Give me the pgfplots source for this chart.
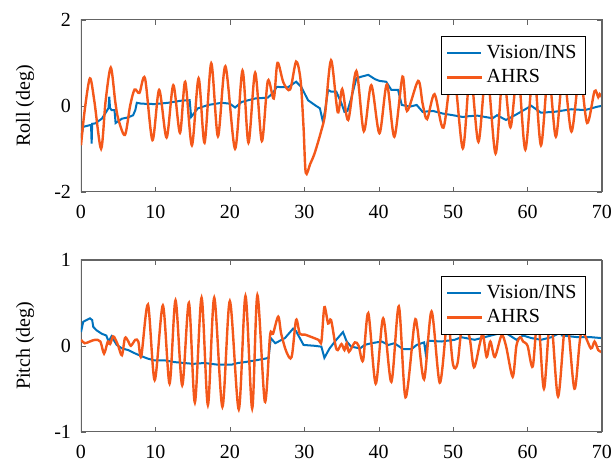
\documentclass[border=0pt]{standalone}
\usepackage{fontspec}
\setmainfont{Liberation Serif}
\usepackage{pgfplots}
\pgfplotsset{compat=1.18}
\definecolor{mblue}{RGB}{0,114,189}
\definecolor{morange}{RGB}{244,88,26}
\definecolor{axgray}{RGB}{100,100,100}
\begin{document}
\begin{tikzpicture}
\useasboundingbox (-40.5pt,-134.65pt) rectangle (266.5pt,95.85pt);
\begin{axis}[scale only axis, width=260.5pt, height=85.9pt,
  xmin=0, xmax=70, xtick={0,10,...,70}, ymin=-2, ymax=2, ytick={-2,0,2},
  tick align=inside, major tick length=2.5pt,
  axis line style={axgray}, tick style={axgray},
  /pgf/number format/assume math mode=true,
  xticklabel style={yshift=-3pt}, yticklabel style={xshift=-1.5pt},
  ylabel={Roll (deg)},
  ylabel style={at={(rel axis cs:0,0.5)}, anchor=center, yshift=28pt},
  legend style={at={(rel axis cs:1,1)}, anchor=north east, xshift=-8pt, yshift=-8pt,
    draw=black, inner sep=2.5pt, row sep=0pt},
  legend cell align=left]
\addplot[mblue, line width=1pt] coordinates {
(0,-0.75) (0.3,-0.49) (1.2,-0.45) (1.35,-0.45) (1.43,-0.88) (1.5,-0.42) (1.9,-0.41)
(2.8,-0.3) (3.4,-0.14) (3.7,-0.05) (3.8,0.21) (3.9,-0.05) (4.1,-0.1) (4.5,-0.1)
(4.65,-0.4) (5.5,-0.3) (6.35,-0.27) (7.0,-0.22) (7.3,-0.1) (7.5,0.07) (8.1,0.05)
(9.9,0.04) (11.7,0.07) (13.5,0.12) (14.6,0.13) (14.8,-0.26) (15.7,-0.06) (17.1,0.02)
(18.9,0.07) (20.0,0.05) (20.7,-0.04) (21.6,0.09) (23.4,0.17) (25.1,0.19) (25.8,0.3)
(26.3,0.44) (27.8,0.43) (28.9,0.56) (29.6,0.44) (30.5,0.13) (31.4,0.02) (32.1,-0.06)
(32.5,-0.37) (32.8,-0.1) (33.2,0.37) (33.6,0.33) (34.3,0.33) (34.99,0.06) (35.4,-0.14)
(35.8,-0.12) (36.3,0.17) (37.0,0.64) (37.7,0.68) (38.6,0.72) (39.5,0.62) (40.1,0.58)
(41.0,0.56) (41.7,0.37) (42.6,0.37) (43.1,0.02) (44.2,-0.02) (45.1,0.02) (45.9,-0.14)
(47.3,-0.12) (48.6,-0.18) (50.0,-0.22) (51.3,-0.26) (52.2,-0.24) (53.3,-0.23)
(55.3,-0.29) (55.9,-0.22) (57.1,-0.33) (58.3,-0.22) (60.5,0.0) (61.8,-0.16)
(63.6,-0.14) (65.9,-0.08) (67.7,-0.1) (69.4,-0.02) (70,0.0)
};
\addlegendentry{Vision/INS}
\addplot[morange, line width=1.2pt, smooth, tension=0.5] coordinates {
(0,-0.92) (0.5,-0.1) (1.2,0.64) (1.8,0.1) (2.7,-1.0) (3.3,0.1) (4.0,0.89) (4.6,0.1)
(5.0,-0.3) (5.9,-0.68) (6.6,0.0) (7.2,0.38) (7.85,0.3) (8.6,0.64) (9.6,-0.8)
(10.5,0.37) (11.5,-0.74) (12.4,0.48) (13.3,-0.63) (14.0,0.56) (14.9,-0.92) (15.8,0.64)
(16.6,-0.86) (17.5,0.99) (18.4,-0.71) (19.4,0.92) (20.7,-1.0) (21.7,0.82) (22.5,-0.86)
(23.4,0.77) (24.3,-0.82) (25.1,0.58) (25.9,0.17) (26.4,1.0) (27.2,0.54) (28.1,0.38)
(28.9,1.03) (29.5,0.6) (29.9,-0.5) (30.2,-1.56) (30.8,-1.35) (31.4,-1.1) (32.3,-0.57)
(32.8,-0.18) (33.6,1.06) (34.5,-0.15) (35.1,0.39) (35.9,-0.33) (37.0,0.81) (38.0,-0.59)
(39.0,0.48) (40.1,-0.64) (41.1,0.5) (42.1,-0.72) (43.2,0.68) (43.8,-0.12) (45.3,0.58)
(45.9,0.05) (46.5,-0.31) (47.5,0.27) (48.7,-0.51) (50.0,0.9) (51.3,-0.99) (52.3,0.8)
(53.4,-0.84) (54.5,0.9) (55.7,-1.11) (56.7,0.8) (57.7,-0.5) (58.7,0.85) (59.7,-1.02)
(60.8,0.9) (61.8,-0.92) (62.8,0.8) (63.8,-0.72) (64.8,0.8) (65.9,-0.6) (67.0,0.75)
(68.0,-0.4) (69.0,0.34) (69.5,0.2) (69.7,0.27) (70,0.2)
};
\addlegendentry{AHRS}
\draw[axgray, line width=0.5pt] (rel axis cs:0,0) rectangle (rel axis cs:1,1);
\end{axis}
\begin{axis}[at={(0,-120pt)}, scale only axis, width=260.5pt, height=85.9pt,
  xmin=0, xmax=70, xtick={0,10,...,70}, ymin=-1, ymax=1, ytick={-1,0,1},
  tick align=inside, major tick length=2.5pt,
  axis line style={axgray}, tick style={axgray},
  /pgf/number format/assume math mode=true,
  xticklabel style={yshift=-3pt}, yticklabel style={xshift=-1.5pt},
  ylabel={Pitch (deg)},
  ylabel style={at={(rel axis cs:0,0.5)}, anchor=center, yshift=28pt},
  legend style={at={(rel axis cs:1,1)}, anchor=north east, xshift=-8pt, yshift=-8pt,
    draw=black, inner sep=2.5pt, row sep=0pt},
  legend cell align=left]
\addplot[mblue, line width=1pt] coordinates {
(0,0.16) (0.3,0.28) (0.76,0.3) (1.2,0.32) (1.5,0.3) (1.65,0.22) (2.1,0.18) (2.8,0.14)
(3.4,0.12) (3.7,0.05) (4.1,0.11) (4.8,0.01) (5.5,-0.03) (6.35,-0.05) (7.3,-0.09)
(8.1,-0.12) (9.0,-0.15) (9.9,-0.17) (11.3,-0.17) (12.6,-0.19) (15.1,-0.21) (16.6,-0.2)
(18.4,-0.22) (20.2,-0.22) (21.1,-0.2) (22.0,-0.19) (23.4,-0.17) (24.7,-0.15)
(25.2,-0.14) (25.5,0.09) (26.1,0.03) (27.4,0.09) (28.5,0.2) (28.9,0.17) (29.9,0.01)
(31.4,0.0) (32.3,-0.01) (32.7,-0.14) (33.4,-0.03) (34.3,0.07) (35.2,0.16) (35.7,0.05)
(36.3,-0.01) (37.5,-0.03) (38.1,0.01) (39.0,0.03) (40.4,0.05) (41.3,0.01) (42.1,0.03)
(43.3,-0.04) (44.4,-0.04) (45.1,0.01) (46.1,0.04) (46.3,-0.08) (46.6,0.06) (48.4,0.05)
(50.2,0.07) (51.1,0.1) (52.9,0.07) (55.1,0.12) (56.9,0.16) (58.5,0.07) (59.4,0.12)
(60.5,0.09) (61.8,0.07) (63.2,0.1) (64.3,0.15) (64.4,0.24) (64.6,0.12) (66.8,0.1)
(68.6,0.1) (69.9,0.09) (70,0.09)
};
\addlegendentry{Vision/INS}
\addplot[morange, line width=1.2pt, smooth, tension=0.5] coordinates {
(0,0.07) (0.5,0.03) (1.2,0.05) (1.9,0.07) (2.6,0.05) (3.1,-0.09) (3.6,0.05) (3.9,0.02)
(4.3,0.11) (4.6,0.08) (5.0,0.0) (5.5,-0.11) (5.9,0.09) (6.3,0.06) (6.7,0.0) (7.3,0.07)
(7.7,0.05) (8.1,-0.12) (9.0,0.48) (9.9,-0.4) (11.0,0.47) (11.9,-0.44) (12.7,0.53)
(13.6,-0.46) (14.5,0.5) (15.3,-0.66) (16.2,0.56) (17.05,-0.69) (17.9,0.56) (19.0,-0.71)
(20.0,0.52) (21.2,-0.74) (22.1,0.58) (23.0,-0.73) (23.7,0.59) (24.7,-0.65) (25.4,0.12)
(25.8,0.14) (26.5,0.34) (26.9,0.14) (27.6,-0.07) (28.3,-0.13) (28.9,0.3) (29.4,0.14)
(30.1,0.13) (31.9,0.07) (32.3,0.05) (32.7,0.45) (33.2,0.26) (33.6,0.30) (34.2,0.0)
(34.5,-0.05) (35.0,0.02) (35.4,-0.05) (35.7,0.03) (36.0,-0.07) (36.8,0.04) (37.3,0.0)
(37.9,-0.17) (38.6,0.38) (39.6,-0.44) (40.6,0.32) (41.7,-0.42) (42.7,0.46) (43.6,-0.6)
(44.8,0.26) (45.2,0.2) (46.1,-0.39) (47.1,0.4) (48.2,-0.43) (49.1,0.24) (49.4,0.28)
(49.99,-0.22) (50.6,-0.2) (51.3,0.3) (52.2,0.1) (52.8,-0.25) (53.6,0.03) (54.0,0.14)
(54.5,-0.13) (55.0,0.05) (55.6,-0.13) (56.5,0.12) (57.1,0.0) (58.0,-0.36) (58.5,0.0)
(59.0,0.1) (59.4,0.05) (60.0,0.0) (60.7,-0.24) (61.4,0.35) (62.2,-0.5) (63.1,0.35)
(64.1,-0.59) (65.2,0.35) (66.3,-0.5) (67.2,0.15) (68.5,-0.03) (69.0,0.05) (69.5,-0.05)
(69.9,-0.07) (70,-0.08)
};
\addlegendentry{AHRS}
\draw[axgray, line width=0.5pt] (rel axis cs:0,0) rectangle (rel axis cs:1,1);
\end{axis}
\end{tikzpicture}
\end{document}
